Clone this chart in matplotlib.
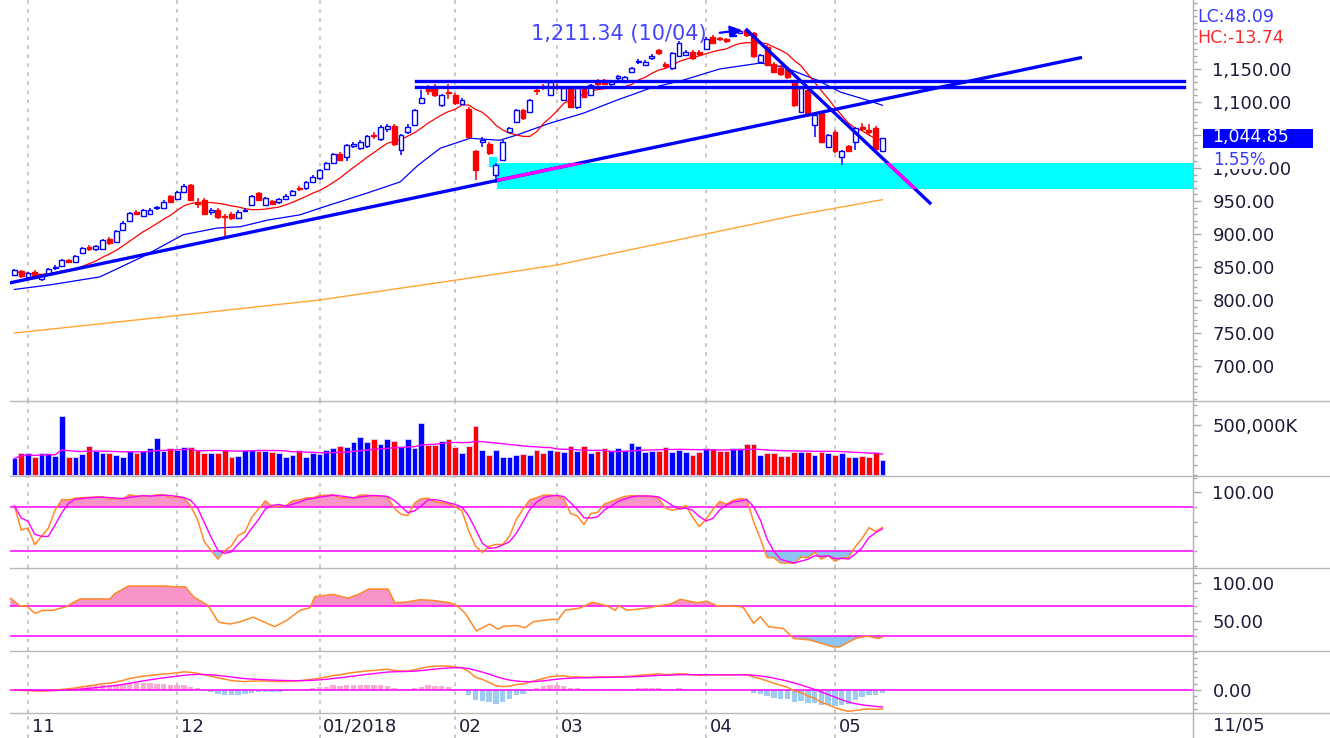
import numpy as np
import pandas as pd
import matplotlib
matplotlib.use("Agg")
import matplotlib.pyplot as plt
from matplotlib.patches import Rectangle
from matplotlib.lines import Line2D
from matplotlib.ticker import FixedLocator, MultipleLocator, FuncFormatter

# daily bars, late Oct 2017 .. 11 May 2018
opens = [838, 844, 835, 843, 832, 840, 849, 852, 860, 858, 871, 881, 877, 878, 893, 888, 906, 920, 934, 927,
         931, 939, 940, 957, 953, 964, 974, 948, 952, 934, 937, 928, 931, 924, 935, 944, 962, 944, 950, 948,
         953, 959, 970, 969, 979, 985, 999, 1008, 1021, 1017, 1033, 1031, 1033, 1050, 1044, 1059, 1064, 1027, 1054, 1065,
         1099, 1121, 1122, 1095, 1115, 1111, 1097, 1090, 1025, 1040, 1037, 990, 1012, 1055, 1070, 1088, 1085, 1118, 1124, 1111,
         1124, 1103, 1121, 1092, 1121, 1111, 1131, 1133, 1128, 1137, 1131, 1146, 1160, 1156, 1166, 1179, 1157, 1151, 1170, 1171,
         1176, 1175, 1181, 1199, 1197, 1195, 1200, 1205, 1209, 1204, 1161, 1184, 1158, 1152, 1150, 1130, 1085, 1118, 1065, 1083,
         1032, 1055, 1017, 1033, 1040, 1062, 1057, 1060, 1026]
highs = [847, 846, 843, 846, 840, 849, 853, 862, 862, 868, 881, 883, 884, 893, 895, 906, 919, 934, 937, 938,
         939, 943, 951, 959, 965, 975, 976, 955, 954, 940, 940, 931, 933, 936, 940, 959, 964, 956, 952, 955,
         960, 967, 973, 981, 989, 999, 1009, 1023, 1024, 1037, 1040, 1043, 1050, 1054, 1065, 1067, 1067, 1052, 1067, 1090,
         1118, 1125, 1128, 1112, 1128, 1114, 1106, 1092, 1027, 1047, 1040, 1008, 1042, 1062, 1090, 1090, 1105, 1124, 1128, 1133,
         1128, 1123, 1123, 1123, 1124, 1128, 1135, 1135, 1134, 1141, 1140, 1153, 1165, 1163, 1172, 1181, 1160, 1176, 1192, 1178,
         1178, 1178, 1198, 1201, 1199, 1197, 1204, 1209, 1211.34, 1206, 1173, 1186, 1160, 1156, 1153, 1133, 1124, 1120, 1082, 1085,
         1052, 1057, 1028, 1035, 1062, 1068, 1066, 1063, 1046]
lows = [836, 834, 833, 832, 829, 838, 846, 850, 856, 856, 869, 875, 875, 876, 884, 886, 904, 918, 929, 925,
        929, 936, 938, 947, 951, 962, 950, 940, 929, 929, 922, 894, 921, 922, 933, 942, 950, 942, 944, 946,
        951, 957, 965, 967, 977, 982, 997, 1006, 1010, 1010, 1030, 1028, 1030, 1044, 1041, 1055, 1034, 1020, 1052, 1063,
        1097, 1110, 1108, 1093, 1105, 1096, 1095, 1045, 982, 1032, 1020, 977, 1010, 1053, 1068, 1073, 1083, 1111, 1118, 1109,
        1118, 1101, 1091, 1090, 1106, 1109, 1124, 1126, 1124, 1134, 1129, 1144, 1157, 1154, 1164, 1171, 1150, 1149, 1168, 1169,
        1164, 1170, 1179, 1188, 1192, 1190, 1198, 1203, 1199, 1167, 1157, 1154, 1144, 1140, 1135, 1093, 1083, 1078, 1047, 1038,
        1030, 1023, 1004, 1024, 1027, 1056, 1050, 1025, 1024]
closes = [845, 836, 841, 834, 838, 847, 850, 860, 858, 866, 879, 877, 882, 891, 886, 904, 917, 932, 931, 936,
          937, 941, 949, 949, 963, 972, 952, 946, 931, 937, 925, 926, 924, 934, 937, 957, 952, 954, 946, 953,
          958, 965, 968, 979, 987, 997, 1007, 1021, 1012, 1035, 1037, 1040, 1048, 1048, 1062, 1064, 1036, 1050, 1062, 1088,
          1106, 1116, 1110, 1110, 1113, 1098, 1103, 1047, 997, 1043, 1022, 1004, 1040, 1060, 1088, 1075, 1103, 1116, 1122, 1131,
          1122, 1121, 1093, 1121, 1108, 1126, 1128, 1128, 1132, 1139, 1138, 1151, 1162, 1161, 1170, 1174, 1154, 1174, 1189, 1175,
          1166, 1173, 1196, 1190, 1195, 1193, 1202, 1207, 1202, 1169, 1171, 1156, 1146, 1143, 1138, 1095, 1121, 1080, 1080, 1040,
          1050, 1025, 1025, 1026, 1060, 1059, 1054, 1029, 1044.85]
# volume in thousands of "K"
volume_mk = [167, 217, 217, 183, 217, 217, 193, 593, 183, 183, 210, 293, 240, 223, 223, 200, 183, 240, 217, 240,
             267, 367, 243, 267, 250, 277, 277, 250, 217, 217, 217, 250, 177, 190, 250, 250, 243, 243, 227, 217,
             183, 200, 250, 177, 223, 210, 250, 267, 293, 277, 333, 383, 333, 357, 310, 357, 343, 293, 357, 267,
             517, 300, 300, 343, 357, 277, 217, 293, 490, 250, 200, 250, 183, 183, 200, 210, 200, 250, 217, 250,
             243, 233, 293, 243, 293, 217, 243, 267, 250, 267, 250, 317, 293, 233, 243, 243, 277, 227, 250, 227,
             200, 227, 267, 260, 243, 243, 267, 267, 310, 310, 200, 217, 217, 190, 190, 233, 233, 233, 200, 233,
             217, 200, 217, 177, 177, 190, 177, 227, 150]

month_idx = [2, 24, 45, 65, 80, 102, 121]
month_lbl = ["11", "12", "01/2018", "02", "03", "04", "05"]
last_date = "11/05"

# lines whose history starts before the visible window
ma200_idx = [0, 20, 45, 65, 80, 102, 115, 128]
ma200_val = [750, 772, 800, 830, 853, 900, 928, 952]
mid_ma_idx = [0, 5.3, 12.6, 19, 24.9, 29.9, 33.3, 37.3, 42.1, 45, 52, 56.9, 59.5, 62.8, 67.2, 71.6, 74.1,
              79, 83.9, 88.9, 93.8, 98.6, 104, 110, 113.4, 118.4, 121.8, 125.7, 128]
mid_ma_val = [816, 823, 835, 866, 899, 909, 911, 921, 929, 939, 962, 979, 1004, 1030, 1045, 1042, 1050,
              1068, 1083, 1103, 1121, 1133, 1150, 1159, 1153, 1133, 1115, 1103, 1095]
rsi_idx = [-0.6, 0.8, 1.8, 3, 4.2, 5.7, 7.7, 8.5, 9.7, 14.1, 14.8, 16.8, 22.5, 23.4, 25.2, 26.4, 28.6, 29.9,
           30.3, 31.8, 33.3, 35.2, 36.7, 38.4, 40.2, 42.1, 43.6, 44.3, 47, 49.2, 51, 52.2, 55.1, 56.1, 57.9,
           59.8, 61.8, 64.2, 65.3, 66.5, 68.1, 70.1, 71.3, 72.1, 74.1, 75.3, 76.5, 79, 80.2, 81.2, 83.4, 85.2,
           87.4, 88.6, 89.1, 90.4, 93.7, 94.9, 96.7, 98.2, 100.7, 102.1, 103.6, 107, 107.5, 109, 110, 111.2,
           113.4, 114.9, 117.3, 120.7, 121.7, 124.2, 125.8, 127.4, 128]
rsi_val = [80, 70, 70, 60, 64, 64, 69, 73.5, 79, 79, 86, 96, 96, 95, 95, 82, 70, 51,
           48, 46, 49, 55, 49, 42.5, 51, 64, 67.5, 82, 85, 80, 86, 92, 92, 74, 75,
           78, 77, 74, 70, 60, 37, 46, 39, 43, 44, 41, 49, 52, 52, 64, 67, 74.6,
           70, 64, 70, 64, 67.5, 70, 72, 78.5, 74, 76, 70, 69, 67.5, 47, 55.7, 42.5,
           40, 27, 25, 16, 16, 27.6, 30, 27, 29]

# hand drawn objects
support_x, support_y = [-0.65, 157.2], [826, 1167]
down_x, down_y = [108.0, 135.0], [1209, 947]
resist_levels = [1122.3, 1131.8]
resist_span = [59.2, 172.4]
zone_lo, zone_hi, zone_start = 968, 1008, 71.2
tab_x, tab_lo, tab_hi = 70.0, 1001, 1016
peak_idx, peak_val, peak_date = 108, 1211.34, "10/04"
lc_val, hc_val, chg_pct = 48.09, -13.74, 1.55

BLUE = "#0000ff"
RED = "#ff0000"
MAG = "#ff00ff"
ORANGE = "#ff8a2a"
PINK = "#f795c8"
LBLUE = "#8ec4f2"
GRID = "#a8a8a8"
TXT = "#1c1c3a"

W, H = 1330, 738
X0, X1 = 10, 1193
XL = (-0.65, 173.8)

fig = plt.figure(figsize=(W / 100, H / 100), dpi=100)


def panel(top, bottom):
    ax = fig.add_axes([X0 / W, 1 - bottom / H, (X1 - X0) / W, (bottom - top) / H])
    for s in ax.spines.values():
        s.set_visible(False)
    ax.set_xlim(XL)
    ax.set_xticks([])
    ax.yaxis.tick_right()
    ax.tick_params(axis="y", which="major", length=6, width=1, color=GRID,
                   labelsize=13, labelcolor=TXT, pad=8)
    ax.tick_params(axis="y", which="minor", length=3, width=1, color=GRID)
    for t in month_idx:
        ax.axvline(t, color="#c4c4c4", lw=1.3, ls=(0, (2, 3)), zorder=0)
    return ax


n = len(closes)
x = np.arange(n)
o = np.array(opens, float)
h = np.array(highs, float)
l = np.array(lows, float)
c = np.array(closes, float)
vol = np.array(volume_mk, float) * 1000
up = c >= o
col = np.where(up, BLUE, RED)
cs = pd.Series(c)

# ---------------- price panel ----------------
ax = panel(0, 401)
ax.set_ylim(647, 1254.5)
ax.yaxis.set_major_locator(FixedLocator(np.arange(700, 1151, 50)))
ax.yaxis.set_minor_locator(MultipleLocator(10))
ax.yaxis.set_major_formatter(FuncFormatter(lambda v, _: f"{v:,.2f}"))

zone = Rectangle((zone_start, zone_lo), XL[1] - zone_start, zone_hi - zone_lo,
                 facecolor="#00ffff", edgecolor="none", zorder=1)
ax.add_patch(zone)
ax.add_patch(Rectangle((tab_x, tab_lo), zone_start - tab_x, tab_hi - tab_lo,
                       facecolor="#00ffff", edgecolor="none", zorder=1))

ax.plot(ma200_idx, ma200_val, color="#ffa530", lw=1.0, zorder=2)
ax.plot(mid_ma_idx, mid_ma_val, color=BLUE, lw=0.9, zorder=2)
ax.plot(x, cs.rolling(10, min_periods=1).mean(), color=RED, lw=0.9, zorder=2)

ax.vlines(x, l, h, colors=col, lw=1.1, zorder=3)
ax.bar(x, np.abs(c - o), bottom=np.minimum(o, c), width=0.72,
       color=np.where(up, "white", RED), edgecolor=col, linewidth=1.0, zorder=4)

for lv in resist_levels:
    ax.plot(resist_span, [lv, lv], color=BLUE, lw=2.4, zorder=5)
ax.plot(support_x, support_y, color=BLUE, lw=2.4, zorder=5)
ax.plot(down_x, down_y, color=BLUE, lw=2.4, zorder=5)
for xs, ys in [(support_x, support_y), (down_x, down_y)]:
    seg, = ax.plot(xs, ys, color=MAG, lw=2.4, zorder=6)
    seg.set_clip_path(zone)

ax.annotate("", xy=(peak_idx - 0.3, peak_val - 2), xytext=(peak_idx - 4.4, peak_val - 7),
            arrowprops=dict(arrowstyle="-|>,head_length=0.7,head_width=0.35", color=BLUE, lw=1.6),
            zorder=7)
ax.text(peak_idx - 5.9, peak_val - 8, f"{peak_val:,.2f} ({peak_date})", ha="right", va="center",
        fontsize=15, color="#4545ff", zorder=7)

# last price tag on the right axis
yc = ax.transData.transform((0, c[-1]))[1] / H
fig.add_artist(Rectangle((1203 / W, yc - 9.5 / H), 110 / W, 19 / H, transform=fig.transFigure,
                         facecolor=BLUE, edgecolor="none", zorder=9))
fig.text(1212 / W, yc + 1.5 / H, f"{c[-1]:,.2f}", ha="left", va="center", fontsize=12.5,
         color="white", zorder=10)
fig.text(1213 / W, 1 - 160 / H, f"{chg_pct:.2f}%", ha="left", va="center", fontsize=12,
         color="#3a3aff", bbox=dict(boxstyle="square,pad=0.02", fc="white", ec="none"), zorder=10)
fig.text(1197 / W, 1 - 17 / H, f"LC:{lc_val:.2f}", ha="left", va="center", fontsize=12.5, color="#3a3aff")
fig.text(1197 / W, 1 - 38 / H, f"HC:{hc_val:.2f}", ha="left", va="center", fontsize=12.5, color="#ff2a2a")

# ---------------- volume ----------------
av = panel(401, 476)
av.set_ylim(-10000, 740000)
av.yaxis.set_major_locator(FixedLocator([500000]))
av.yaxis.set_minor_locator(MultipleLocator(100000))
av.yaxis.set_major_formatter(FuncFormatter(lambda v, _: f"{v:,.0f}K"))
av.bar(x, vol, width=0.85, color=col, edgecolor="#d8d8ff", linewidth=0.6, zorder=2)
av.plot(x, pd.Series(vol).rolling(20, min_periods=1).mean(), color=MAG, lw=1.0, zorder=3)

# ---------------- KD (slow stochastic 9,3,3) ----------------
ak = panel(476, 568)
ak.set_ylim(-3.2, 122.5)
ak.yaxis.set_major_locator(FixedLocator([100]))
ak.yaxis.set_minor_locator(MultipleLocator(20))
ak.yaxis.set_major_formatter(FuncFormatter(lambda v, _: f"{v:.2f}"))
ll = pd.Series(l).rolling(9, min_periods=1).min()
hh = pd.Series(h).rolling(9, min_periods=1).max()
rsv = 100 * (cs - ll) / (hh - ll)
k = rsv.rolling(3, min_periods=1).mean()
d = k.rolling(3, min_periods=1).mean()
ak.fill_between(x, k, 80, where=k > 80, interpolate=True, color=PINK, lw=0, zorder=1)
ak.fill_between(x, k, 20, where=k < 20, interpolate=True, color=LBLUE, lw=0, zorder=1)
ak.axhline(80, color=MAG, lw=1.1, zorder=2)
ak.axhline(20, color=MAG, lw=1.1, zorder=2)
ak.plot(x, k, color=ORANGE, lw=1.1, zorder=3)
ak.plot(x, d, color=MAG, lw=1.0, zorder=3)

# ---------------- RSI ----------------
ar = panel(568, 651)
ar.set_ylim(10.5, 119.7)
ar.yaxis.set_major_locator(FixedLocator([50, 100]))
ar.yaxis.set_minor_locator(MultipleLocator(10))
ar.yaxis.set_major_formatter(FuncFormatter(lambda v, _: f"{v:.2f}"))
ri = np.array(rsi_idx)
rv = np.array(rsi_val)
ar.fill_between(ri, rv, 70, where=rv > 70, interpolate=True, color=PINK, lw=0, zorder=1)
ar.fill_between(ri, rv, 30, where=rv < 30, interpolate=True, color=LBLUE, lw=0, zorder=1)
ar.axhline(70, color=MAG, lw=1.1, zorder=2)
ar.axhline(30, color=MAG, lw=1.1, zorder=2)
ar.plot(ri, rv, color=ORANGE, lw=1.1, zorder=3)

# ---------------- MACD ----------------
am = panel(651, 713)
dif = cs.ewm(span=12, adjust=False).mean() - cs.ewm(span=26, adjust=False).mean()
dea = dif.ewm(span=9, adjust=False).mean()
hist = 1.5 * (dif - dea)
kpx = max(dif.max() / 24, -dif.min() / 21.5)
am.set_ylim(-23 * kpx, 39 * kpx)
am.yaxis.set_major_locator(FixedLocator([0]))
am.yaxis.set_minor_locator(MultipleLocator(10))
am.yaxis.set_major_formatter(FuncFormatter(lambda v, _: f"{v:.2f}"))
am.bar(x, hist, width=0.8, color=np.where(hist >= 0, "#f7acd2", "#9ccbf4"), zorder=1)
am.axhline(0, color=MAG, lw=1.1, zorder=2)
am.plot(x, dif, color=ORANGE, lw=1.1, zorder=3)
am.plot(x, dea, color=MAG, lw=1.0, zorder=3)

# ---------------- date strip ----------------
adt = panel(713, 738)
adt.set_yticks([])
adt.set_ylim(0, 1)
for t, lbl in zip(month_idx, month_lbl):
    adt.text(t + 0.55, 0.45, lbl, ha="left", va="center", fontsize=13, color=TXT)
fig.text(1213 / W, 1 - 726 / H, last_date, ha="left", va="center", fontsize=13, color=TXT)

# panel separators and right border
for yy in [401, 476, 568, 651, 713]:
    fig.add_artist(Line2D([X0 / W, 1], [1 - yy / H] * 2, color="#b8b8b8", lw=1.0,
                          transform=fig.transFigure))
fig.add_artist(Line2D([X1 / W] * 2, [0, 1], color="#b0b0b0", lw=1.0, transform=fig.transFigure))

fig.savefig("out.png", dpi=100)
